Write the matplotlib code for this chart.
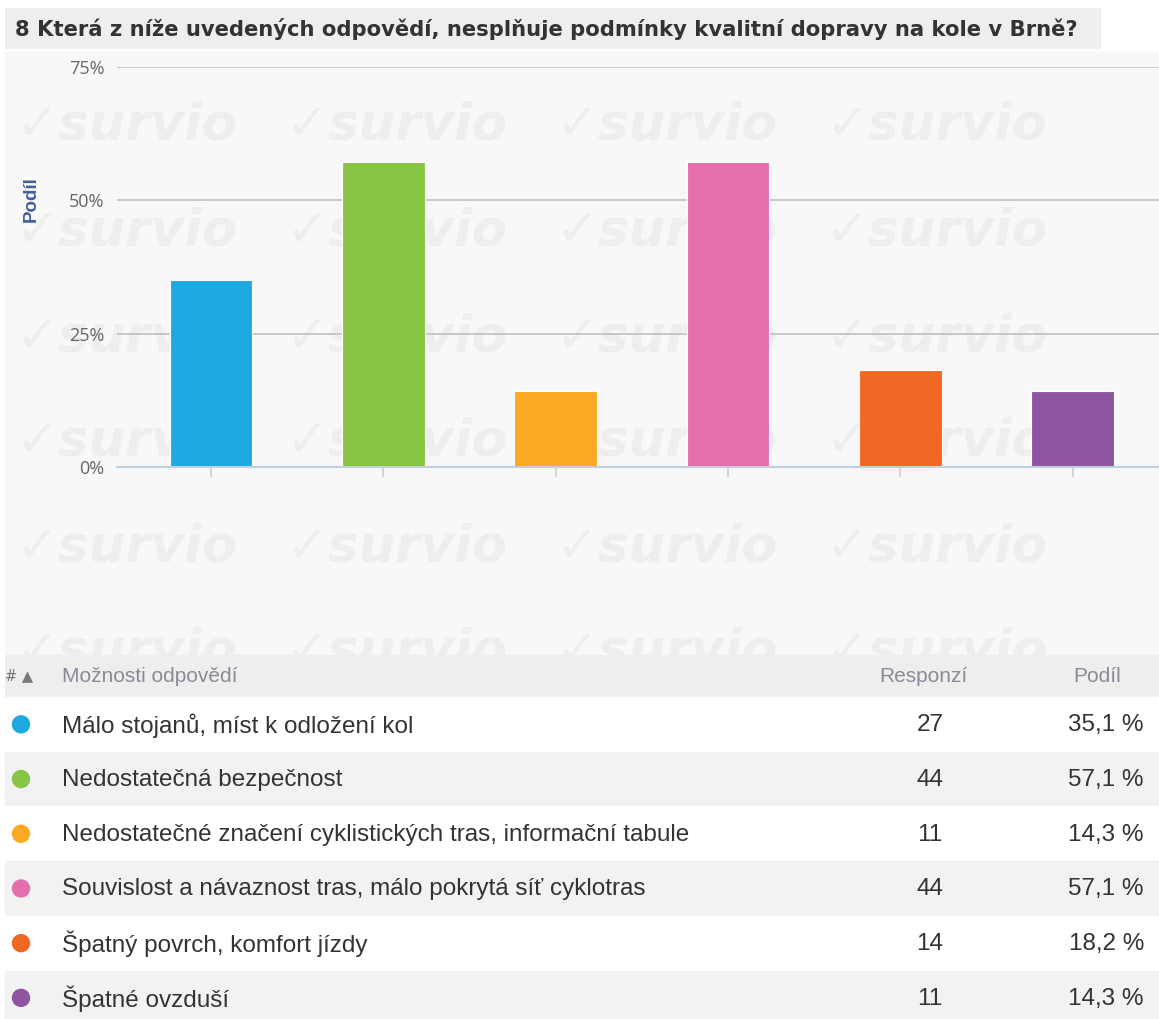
import numpy as np
import matplotlib.pyplot as plt
from matplotlib.patches import Rectangle, Ellipse

W, H = 1159, 1019

title = "8 Která z níže uvedených odpovědí, nesplňuje podmínky kvalitní dopravy na kole v Brně?"
answers = ["Málo stojanů, míst k odložení kol",
           "Nedostatečná bezpečnost",
           "Nedostatečné značení cyklistických tras, informační tabule",
           "Souvislost a návaznost tras, málo pokrytá síť cyklotras",
           "Špatný povrch, komfort jízdy",
           "Špatné ovzduší"]
responses = [27, 44, 11, 44, 14, 11]
shares = [35.1, 57.1, 14.3, 57.1, 18.2, 14.3]
colors = ["#1fa9e1", "#88c545", "#fba923", "#e56fac", "#f26724", "#8f55a2"]
yticks = [0, 25, 50, 75]

plt.rcParams['font.family'] = ['Liberation Sans', 'DejaVu Sans']

fig = plt.figure(figsize=(W / 100, H / 100), dpi=100)
fig.patch.set_facecolor("white")

# pixel helpers (y from top)
def fx(x):
    return x / W

def fy(y):
    return 1 - y / H

def box(x0, y0, x1, y1, color, z=-1):
    p = Rectangle((fx(x0), fy(y1)), fx(x1) - fx(x0), fy(y0) - fy(y1),
                  transform=fig.transFigure, color=color, zorder=z)
    fig.patches.append(p)
    return p

# title bar and chart background
box(5, 8, 1100, 48, "#eeeeee")
fig.text(fx(15), fy(29), title, fontsize=15.2, fontweight="bold", color="#333333",
         va="center", ha="left", family=['DejaVu Sans'])
bg = box(5, 52, 1159, 655, "#f8f8f8", z=-3)

# watermark
for wy in [125, 232, 337, 442, 547, 652]:
    for wx in [15, 285, 555, 825]:
        t = fig.text(fx(wx), fy(wy), "✓survio", fontsize=37, fontweight="bold", style="italic",
                     color="#eeeeee", va="center", ha="left", zorder=-2,
                     family=['DejaVu Sans'])
        t.set_clip_path(bg)

# bar chart
ax = fig.add_axes([fx(117), fy(467), fx(1159) - fx(117), fy(67) - fy(467)])
ax.set_facecolor("none")
x = np.arange(len(shares))
ax.bar(x, shares, width=0.48, color=colors, edgecolor="white", linewidth=0.8, zorder=3)
ax.set_ylim(0, 75)
ax.set_xlim(-0.545, 5.5)
ax.set_yticks(yticks)
ax.set_yticklabels([f"{v}%" for v in yticks], fontsize=13, color="#666666",
                   family=['Open Sans', 'DejaVu Sans'])
ax.yaxis.grid(True, color="#c0c0c0", linewidth=1.2, zorder=1)
ax.tick_params(axis="y", length=0, pad=9)
ax.set_xticks(x)
ax.set_xticklabels([])
ax.tick_params(axis="x", length=7, width=1.2, color="#c0d0e0")
for s in ["top", "right", "left"]:
    ax.spines[s].set_visible(False)
ax.spines["bottom"].set_color("#c0d0e0")
ax.spines["bottom"].set_linewidth(1.5)
ax.spines["bottom"].set_zorder(4)
fig.text(fx(31), fy(199), "Podíl", rotation=90, fontsize=13.5, fontweight="bold",
         color="#40609a", va="center", ha="center")

# table
box(5, 655, 1159, 697, "#eeeeee")
hy = 676
fig.text(fx(5), fy(hy), "# ▲", fontsize=10.5, color="#777777", va="center", ha="left",
         family=['DejaVu Sans'])
fig.text(fx(62), fy(hy), "Možnosti odpovědí", fontsize=15, color="#8a8a9a", va="center")
fig.text(fx(923), fy(hy), "Responzí", fontsize=15, color="#8a8a9a", va="center", ha="center")
fig.text(fx(1097), fy(hy), "Podíl", fontsize=15, color="#8a8a9a", va="center", ha="center")

row_h = 54.7
r = 8.5
for i, (a, n, s, c) in enumerate(zip(answers, responses, shares, colors)):
    y0 = 697 + i * row_h
    box(5, y0, 1159, y0 + row_h, "white" if i % 2 == 0 else "#f2f2f2")
    yc = y0 + row_h / 2
    fig.patches.append(Ellipse((fx(21), fy(yc)), 2 * r / W, 2 * r / H,
                               transform=fig.transFigure, color=c, zorder=2))
    fig.text(fx(62), fy(yc + 1), a, fontsize=17.5, color="#333333", va="center")
    fig.text(fx(930), fy(yc + 1), str(n), fontsize=17.5, color="#333333", va="center", ha="center")
    fig.text(fx(1144), fy(yc + 1), f"{s:.1f} %".replace(".", ","), fontsize=17.5,
             color="#333333", va="center", ha="right")

fig.savefig("out.png", dpi=100)
